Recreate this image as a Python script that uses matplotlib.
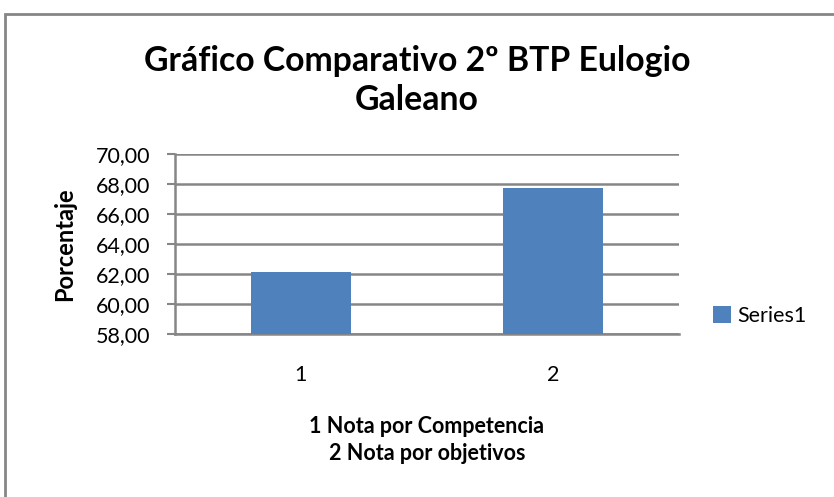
import matplotlib
matplotlib.use("Agg")
import matplotlib.pyplot as plt
from matplotlib.patches import Rectangle

# datos
categorias = ["1", "2"]
valores = [62.15, 67.75]
serie = "Series1"
yticks = [58, 60, 62, 64, 66, 68, 70]
titulo = "Gráfico Comparativo 2º BTP Eulogio\nGaleano"
xlabel = "1 Nota por Competencia\n2 Nota por objetivos"
ylabel = "Porcentaje"

plt.rcParams['font.family'] = ['Lato', 'DejaVu Sans']

fig = plt.figure(figsize=(8.34, 4.97), dpi=100)
ax = fig.add_axes([0.2098, 0.328, 0.6043, 0.3621])

x = range(len(categorias))
ax.bar(x, valores, width=0.4, color="#4F81BD", label=serie, zorder=3)
ax.set_xlim(-0.5, 1.5)
ax.set_ylim(58, 70)
ax.set_yticks(yticks)
ax.set_yticklabels([f"{v:.2f}".replace(".", ",") for v in yticks], fontsize=15.5)
ax.set_xticks(list(x))
ax.set_xticklabels(categorias, fontsize=15.5)
ax.tick_params(axis="x", length=0, pad=22)
ax.tick_params(axis="y", length=6, width=1.5, color="#868686", pad=12)
ax.grid(axis="y", color="#868686", linewidth=1.8, zorder=0)
for s in ["top", "right"]:
    ax.spines[s].set_visible(False)
for s in ["left", "bottom"]:
    ax.spines[s].set_color("#868686")
    ax.spines[s].set_linewidth(1.8)

ax.set_ylabel(ylabel, fontsize=17, fontweight="bold", labelpad=14)
ax.set_xlabel(xlabel, fontsize=15.5, fontweight="bold", labelpad=23, linespacing=1.35)
fig.text(0.5, 0.838, titulo, ha="center", va="center", fontsize=24.3,
         fontweight="bold", linespacing=1.25)

ax.legend(loc="center left", bbox_to_anchor=(1.03, 0.1), frameon=False,
          fontsize=15.5, handlelength=0.8, handleheight=0.8, handletextpad=0.3)

# marco exterior
fig.patches.append(Rectangle((5 / 834, -0.1), 1.2, 1 - 14 / 497 + 0.1,
                             transform=fig.transFigure, fill=False,
                             edgecolor="#868686", linewidth=2))

fig.savefig("out.png", dpi=100, facecolor="white")
